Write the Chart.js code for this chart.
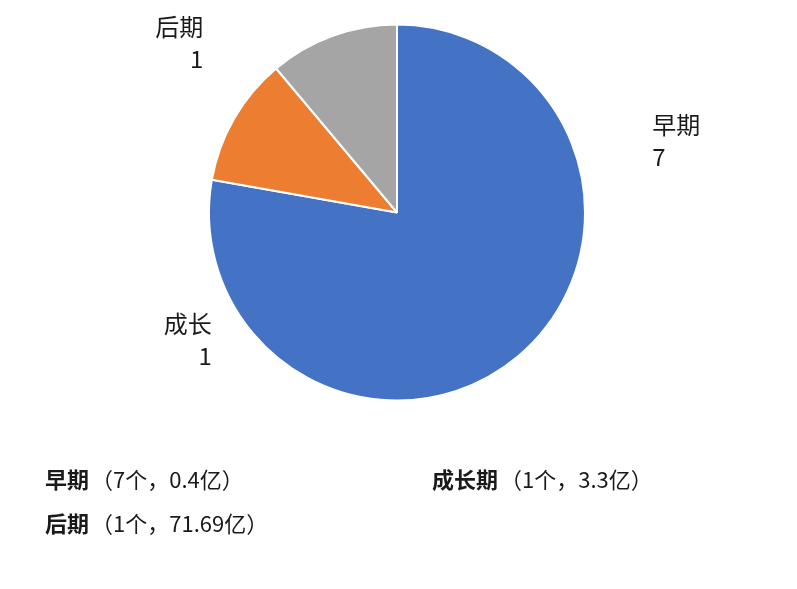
<!DOCTYPE html>
<html>
<head>
<meta charset="utf-8">
<script src="https://cdn.jsdelivr.net/npm/chart.js@4"></script>
<style>
  html, body { margin: 0; padding: 0; background: #fff; }
  #wrap { position: relative; width: 797px; height: 589px; overflow: hidden; }
  #pieChart { position: absolute; left: 0; top: 0; }
  .leg {
    position: absolute;
    font-family: "Noto Sans CJK SC", "Noto Sans", sans-serif;
    font-size: 22px;
    line-height: 22px;
    color: #1a1a1a;
    white-space: nowrap;
  }
  .leg b { font-weight: 700; margin-right: 2px; }
</style>
</head>
<body>
<div id="wrap">
  <canvas id="pieChart" width="797" height="589"></canvas>
</div>
<script>
  // ── DATA ──
  const categories = ['早期', '成长', '后期'];
  const counts = [7, 1, 1];
  const legendNames = ['早期', '成长期', '后期'];
  const amounts = ['0.4', '3.3', '71.69'];
  const colors = ['#4472C4', '#ED7D31', '#A5A5A5'];

  // where each outside label sits: angle (deg, canvas) and distance in radii
  const labelAngle = [-15.6, 145.5, -138.8];
  const labelDist = [1.41, 1.195, 1.37];

  // ── OUTSIDE LABELS ──
  const outsideLabels = {
    id: 'outsideLabels',
    afterDatasetsDraw(chart) {
      const ctx = chart.ctx;
      const meta = chart.getDatasetMeta(0);
      ctx.save();
      ctx.font = '24px "Noto Sans CJK SC", "Noto Sans", sans-serif';
      ctx.fillStyle = '#1a1a1a';
      ctx.textBaseline = 'middle';
      meta.data.forEach((arc, i) => {
        const p = arc.getProps(['x', 'y', 'outerRadius'], true);
        const a = labelAngle[i] * Math.PI / 180;
        const x = p.x + Math.cos(a) * p.outerRadius * labelDist[i];
        const y = p.y + Math.sin(a) * p.outerRadius * labelDist[i];
        ctx.textAlign = Math.cos(a) >= 0 ? 'left' : 'right';
        ctx.fillText(categories[i], x, y - 16);
        ctx.fillText(String(counts[i]), x, y + 16);
      });
      ctx.restore();
    }
  };

  // ── PIE CHART ──
  const pieCtx = document.getElementById('pieChart').getContext('2d');
  new Chart(pieCtx, {
    type: 'pie',
    data: {
      labels: categories,
      datasets: [{
        data: counts,
        backgroundColor: colors,
        borderColor: '#fff',
        borderWidth: 2
      }]
    },
    options: {
      responsive: false,
      animation: false,
      layout: { padding: { left: 208, right: 211, top: 23, bottom: 187 } },
      plugins: {
        legend: { display: false },
        tooltip: { enabled: false }
      }
    },
    plugins: [outsideLabels]
  });

  // ── BOTTOM LEGEND ──
  const legendPos = [[45, 467], [432, 467], [45, 511]];
  const wrap = document.getElementById('wrap');
  legendNames.forEach((name, i) => {
    const d = document.createElement('div');
    d.className = 'leg';
    d.style.left = legendPos[i][0] + 'px';
    d.style.top = legendPos[i][1] + 'px';
    const b = document.createElement('b');
    b.textContent = name;
    d.appendChild(b);
    d.appendChild(document.createTextNode('（' + counts[i] + '个，' + amounts[i] + '亿）'));
    wrap.appendChild(d);
  });
</script>
</body>
</html>
